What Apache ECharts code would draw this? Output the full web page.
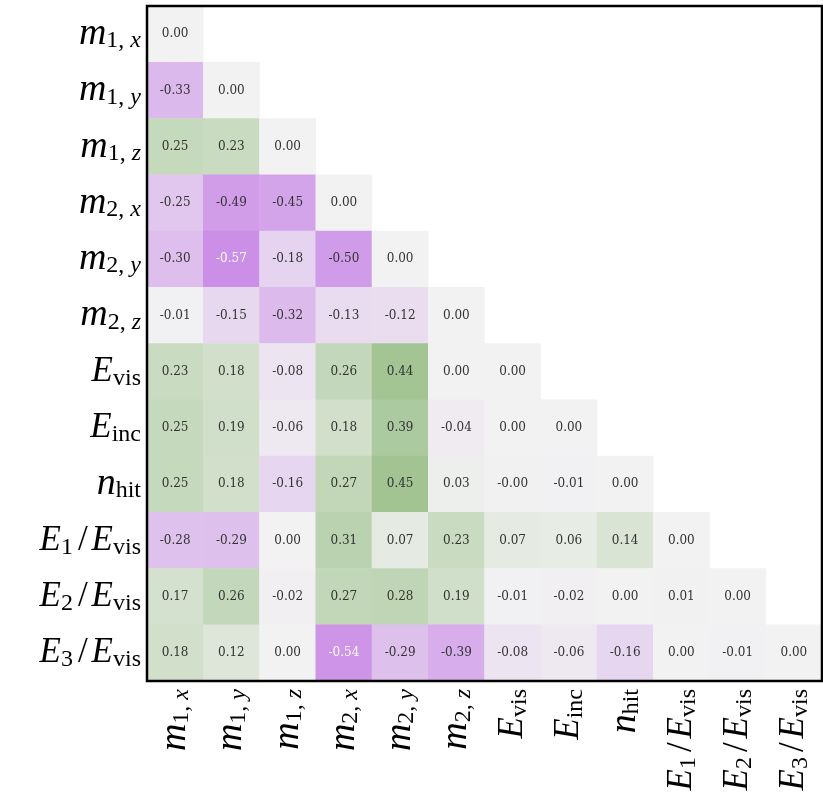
<!DOCTYPE html>
<html lang="en">
<head>
    <meta charset="UTF-8">
    <title>Correlation heatmap</title>
    <script src="https://cdn.jsdelivr.net/npm/echarts@6/dist/echarts.min.js"></script>
    <style>
        html, body { margin: 0; padding: 0; background: #fff; }
    </style>
</head>
<body>
    <div id="chart" style="width: 823px; height: 802px;"></div>
    <script>
        // variable names (categories)
        var categories = ['m1x', 'm1y', 'm1z', 'm2x', 'm2y', 'm2z', 'Evis', 'Einc', 'nhit', 'E1/Evis', 'E2/Evis', 'E3/Evis'];

        // tick labels, written as rich text (italic letter + subscript)
        var tickLabels = [
            '{m|m}{s|1, }{si|x}',
            '{m|m}{s|1, }{si|y}',
            '{m|m}{s|1, }{si|z}',
            '{m|m}{s|2, }{si|x}',
            '{m|m}{s|2, }{si|y}',
            '{m|m}{s|2, }{si|z}',
            '{i|E}{s|vis}',
            '{i|E}{s|inc}',
            '{m|n}{s|hit}',
            '{i|E}{s|1}{r|/}{i|E}{s|vis}',
            '{i|E}{s|2}{r|/}{i|E}{s|vis}',
            '{i|E}{s|3}{r|/}{i|E}{s|vis}'
        ];

        // lower triangle of the correlation matrix, one array per row
        var row0 = [0.00];
        var row1 = [-0.33, 0.00];
        var row2 = [0.25, 0.23, 0.00];
        var row3 = [-0.25, -0.49, -0.45, 0.00];
        var row4 = [-0.30, -0.57, -0.18, -0.50, 0.00];
        var row5 = [-0.01, -0.15, -0.32, -0.13, -0.12, 0.00];
        var row6 = [0.23, 0.18, -0.08, 0.26, 0.44, 0.00, 0.00];
        var row7 = [0.25, 0.19, -0.06, 0.18, 0.39, -0.04, 0.00, 0.00];
        var row8 = [0.25, 0.18, -0.16, 0.27, 0.45, 0.03, -0.004, -0.01, 0.00];
        var row9 = [-0.28, -0.29, 0.00, 0.31, 0.07, 0.23, 0.07, 0.06, 0.14, 0.00];
        var row10 = [0.17, 0.26, -0.02, 0.27, 0.28, 0.19, -0.01, -0.02, 0.00, 0.01, 0.00];
        var row11 = [0.18, 0.12, 0.00, -0.54, -0.29, -0.39, -0.08, -0.06, -0.16, 0.00, -0.01, 0.00];
        var rows = [row0, row1, row2, row3, row4, row5, row6, row7, row8, row9, row10, row11];

        var data = [];
        rows.forEach(function (r, y) {
            r.forEach(function (v, x) {
                var item = { value: [x, y, v] };
                if (v <= -0.52) {
                    item.label = { color: '#ffffff' };
                }
                data.push(item);
            });
        });

        var rich = {
            m: { fontFamily: 'Liberation Serif', fontStyle: 'italic', fontSize: 38, lineHeight: 38, color: '#000' },
            i: { fontFamily: 'Liberation Serif', fontStyle: 'italic', fontSize: 35, lineHeight: 38, color: '#000' },
            si: { fontFamily: 'Liberation Serif', fontStyle: 'italic', fontSize: 24, lineHeight: 16, verticalAlign: 'bottom', color: '#000' },
            s: { fontFamily: 'Liberation Serif', fontSize: 24, lineHeight: 16, verticalAlign: 'bottom', color: '#000' },
            r: { fontFamily: 'Liberation Serif', fontSize: 35, lineHeight: 38, padding: [0, 4, 0, 5], color: '#000' }
        };

        var chart = echarts.init(document.getElementById('chart'));
        var option = {
            backgroundColor: '#ffffff',
            animation: false,
            grid: {
                left: 147,
                top: 6,
                right: 1,
                bottom: 121,
                show: true,
                z: 10,
                backgroundColor: 'transparent',
                borderColor: '#000',
                borderWidth: 2.5
            },
            xAxis: {
                type: 'category',
                data: categories,
                axisLine: { show: false },
                axisTick: { show: false },
                splitLine: { show: false },
                axisLabel: {
                    rotate: 90,
                    margin: 8,
                    interval: 0,
                    formatter: function (val, idx) { return tickLabels[idx]; },
                    rich: rich
                }
            },
            yAxis: {
                type: 'category',
                data: categories,
                inverse: true,
                axisLine: { show: false },
                axisTick: { show: false },
                splitLine: { show: false },
                axisLabel: {
                    margin: 6,
                    interval: 0,
                    formatter: function (val, idx) { return tickLabels[idx]; },
                    rich: rich
                }
            },
            visualMap: {
                show: false,
                type: 'continuous',
                min: -1,
                max: 1,
                dimension: 2,
                inRange: { color: ['#ae44e0', '#f2f2f2', '#3f8c1c'] }
            },
            series: [{
                type: 'heatmap',
                data: data,
                itemStyle: { borderWidth: 0 },
                label: {
                    show: true,
                    fontFamily: 'DejaVu Serif',
                    fontSize: 12,
                    color: '#333333',
                    formatter: function (p) { return p.value[2].toFixed(2); }
                },
                emphasis: { disabled: true }
            }]
        };
        chart.setOption(option);
    </script>
</body>
</html>
